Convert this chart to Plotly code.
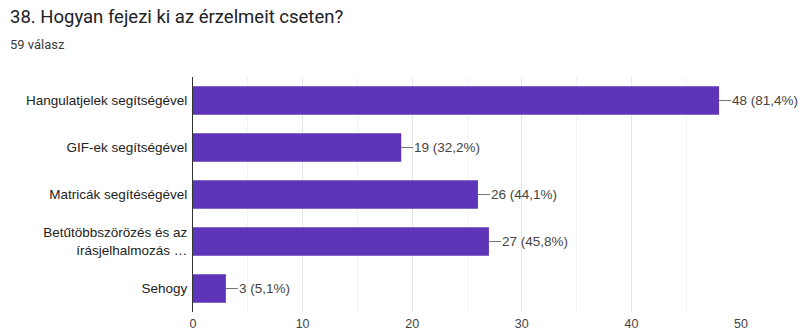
import plotly.graph_objects as go

# Survey question 38: how respondents express emotions in chat
categories = [
    "Hangulatjelek segítségével",
    "GIF-ek segítségével",
    "Matricák segítéségével",
    "Betűtöbbszörözés és az<br>írásjelhalmozás …",
    "Sehogy",
]
counts = [48, 19, 26, 27, 3]
percent_labels = ["81,4%", "32,2%", "44,1%", "45,8%", "5,1%"]
x_ticks = [0, 10, 20, 30, 40, 50]

title_text = "38. Hogyan fejezi ki az érzelmeit cseten?"
subtitle_text = "59 válasz"

BAR_COLOR = "#5e35b8"
FONT = "Arial, 'Liberation Sans', sans-serif"
TITLE_FONT = "Roboto, Arial, sans-serif"

fig = go.Figure(
    go.Bar(
        x=counts,
        y=categories,
        orientation="h",
        marker=dict(color=BAR_COLOR, line=dict(width=0)),
        width=0.61,
        hoverinfo="skip",
    )
)

# value labels with a short leader line from the bar end
for cat, val, pct in zip(categories, counts, percent_labels):
    fig.add_annotation(
        x=val,
        y=cat,
        text=f"{val} ({pct})",
        showarrow=True,
        arrowhead=0,
        arrowwidth=1,
        arrowcolor="#757575",
        ax=12,
        ay=0,
        xanchor="left",
        standoff=0,
        borderpad=0,
        font=dict(family=FONT, size=13.5, color="#444444"),
    )

# title and response count
title_x = (8 - 193) / 548
fig.add_annotation(
    xref="paper", yref="paper", x=title_x, y=1.0,
    yshift=60, xanchor="left", yanchor="middle",
    text=title_text, showarrow=False,
    font=dict(family=TITLE_FONT, size=18.5, color="#202124"),
)
fig.add_annotation(
    xref="paper", yref="paper", x=title_x, y=1.0,
    yshift=33, xanchor="left", yanchor="middle",
    text=subtitle_text, showarrow=False,
    font=dict(family=TITLE_FONT, size=13, color="#3c3c3c"),
)

fig.update_layout(
    width=802,
    height=331,
    margin=dict(l=193, r=61, t=77, b=19),
    paper_bgcolor="white",
    plot_bgcolor="white",
    showlegend=False,
    font=dict(family=FONT),
    xaxis=dict(
        range=[0, 50],
        tickvals=x_ticks,
        ticktext=[str(t) for t in x_ticks],
        showgrid=True,
        gridcolor="#e6e6e6",
        gridwidth=1,
        minor=dict(dtick=5, showgrid=True, gridcolor="#f3f3f3", gridwidth=1),
        zeroline=False,
        showline=False,
        ticks="",
        automargin=False,
        ticklabelstandoff=2,
        tickfont=dict(family=FONT, size=12.5, color="#444444"),
        fixedrange=True,
    ),
    yaxis=dict(
        autorange="reversed",
        showgrid=False,
        showline=True,
        linecolor="#333333",
        linewidth=1,
        ticks="",
        automargin=False,
        ticklabelstandoff=2,
        tickfont=dict(family=FONT, size=13.5, color="#222222"),
        fixedrange=True,
    ),
)

fig.write_html("out.html")
